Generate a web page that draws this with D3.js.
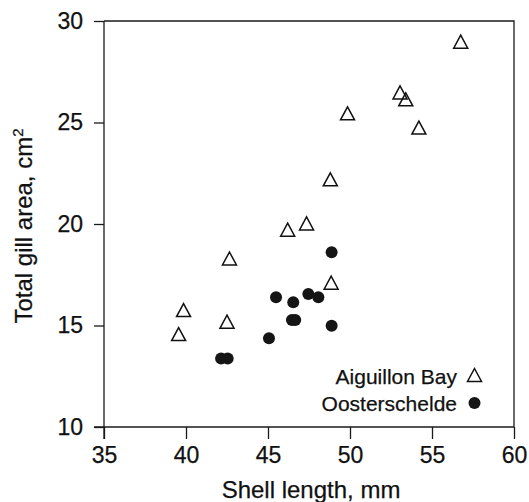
<!DOCTYPE html>
<html>
  <head>
    <meta charset="utf-8">
    <title>Gill area vs shell length</title>
    <script src="https://d3js.org/d3.v7.min.js"></script>
    <style>
      body { margin: 0; background: #fff; }
      svg { display: block; font-family: 'Liberation Sans', Arial, Helvetica, sans-serif; }
      .axis path, .axis line { stroke: #1a1a1a; stroke-width: 1.3; }
      .axis text { font-size: 23px; fill: #111; stroke: #111; stroke-width: 0.25; }
      .lbl { fill: #111; stroke: #111; stroke-width: 0.25; }
    </style>
  </head>
  <body>
    <svg id="chart"></svg>
    <script>
// Aiguillon Bay (open triangles)
var aiguillonLength = [56.75, 53.05, 53.4, 49.85, 54.2, 48.8, 46.2, 47.35, 42.65, 39.85, 42.5, 39.55, 48.85];
var aiguillonArea   = [28.98, 26.48, 26.14, 25.45, 24.75, 22.2, 19.72, 20.03, 18.3, 15.76, 15.19, 14.58, 17.11];

// Oosterschelde (filled circles)
var oosterLength = [48.88, 45.49, 46.54, 47.46, 48.07, 46.46, 46.66, 48.88, 45.06, 42.14, 42.54];
var oosterArea   = [18.61, 16.39, 16.14, 16.55, 16.39, 15.27, 15.27, 14.99, 14.37, 13.38, 13.38];

var xTicks = [35, 40, 45, 50, 55, 60];
var yTicks = [10, 15, 20, 25, 30];

var width = 529, height = 502;
var margin = {top: 21, right: 15, bottom: 75, left: 104};

var svg = d3.select('#chart').attr('width', width).attr('height', height);

var x = d3.scaleLinear().domain([35, 60]).range([margin.left, width - margin.right]);
var y = d3.scaleLinear().domain([10, 30]).range([height - margin.bottom, margin.top]);

// frame (top and right sides, no ticks)
svg.append('path')
  .attr('d', 'M' + x(35) + ',' + y(30) + 'H' + x(60) + 'V' + y(10))
  .attr('fill', 'none')
  .attr('stroke', '#1a1a1a')
  .attr('stroke-width', 1.3);

var xAxis = svg.append('g')
  .attr('class', 'axis')
  .attr('transform', 'translate(0,' + y(10) + ')')
  .call(d3.axisBottom(x).tickValues(xTicks).tickSize(12).tickSizeOuter(0).tickPadding(8));

var yAxis = svg.append('g')
  .attr('class', 'axis')
  .attr('transform', 'translate(' + x(35) + ',0)')
  .call(d3.axisLeft(y).tickValues(yTicks).tickSize(10).tickSizeOuter(0).tickPadding(11));

// extend axis lines a bit beyond the corner like the original
xAxis.select('.domain').attr('d', 'M' + (x(35) - 10) + ',0H' + x(60));
yAxis.select('.domain').attr('d', 'M0,' + y(30) + 'V' + (y(10) + 12));

// axis titles
svg.append('text')
  .attr('class', 'lbl')
  .attr('x', 311)
  .attr('y', 498)
  .attr('text-anchor', 'middle')
  .style('font-size', '24px')
  .text('Shell length, mm');

var yt = svg.append('text')
  .attr('class', 'lbl')
  .attr('transform', 'translate(32,' + 226 + ') rotate(-90)')
  .attr('text-anchor', 'middle')
  .style('font-size', '24px');
yt.append('tspan').text('Total gill area, cm');
yt.append('tspan').attr('dy', -9).style('font-size', '15px').text('2');

// triangle path centred on its bounding box
function tri(cx, cy, w, h) {
  return 'M' + cx + ',' + (cy - h / 2) + 'L' + (cx + w / 2) + ',' + (cy + h / 2) + 'L' + (cx - w / 2) + ',' + (cy + h / 2) + 'Z';
}

var aiguillon = d3.zip(aiguillonLength, aiguillonArea);
var ooster = d3.zip(oosterLength, oosterArea);

svg.append('g').selectAll('circle')
  .data(ooster)
  .enter()
  .append('circle')
  .attr('cx', function(d) { return x(d[0]); })
  .attr('cy', function(d) { return y(d[1]); })
  .attr('r', 6)
  .attr('fill', '#151515');

svg.append('g').selectAll('path')
  .data(aiguillon)
  .enter()
  .append('path')
  .attr('d', function(d) { return tri(x(d[0]), y(d[1]), 14, 13); })
  .attr('fill', 'none')
  .attr('stroke', '#111')
  .attr('stroke-width', 1.5);

// legend
var legend = svg.append('g');
legend.append('text')
  .attr('class', 'lbl')
  .attr('x', 457).attr('y', 384)
  .attr('text-anchor', 'end')
  .style('font-size', '21px')
  .text('Aiguillon Bay');
legend.append('path')
  .attr('d', tri(474.5, 375, 14, 13))
  .attr('fill', 'none')
  .attr('stroke', '#111')
  .attr('stroke-width', 1.5);
legend.append('text')
  .attr('class', 'lbl')
  .attr('x', 457).attr('y', 411)
  .attr('text-anchor', 'end')
  .style('font-size', '21px')
  .text('Oosterschelde');
legend.append('circle')
  .attr('cx', 474.5).attr('cy', 403).attr('r', 6)
  .attr('fill', '#151515');
    </script>
  </body>
</html>
